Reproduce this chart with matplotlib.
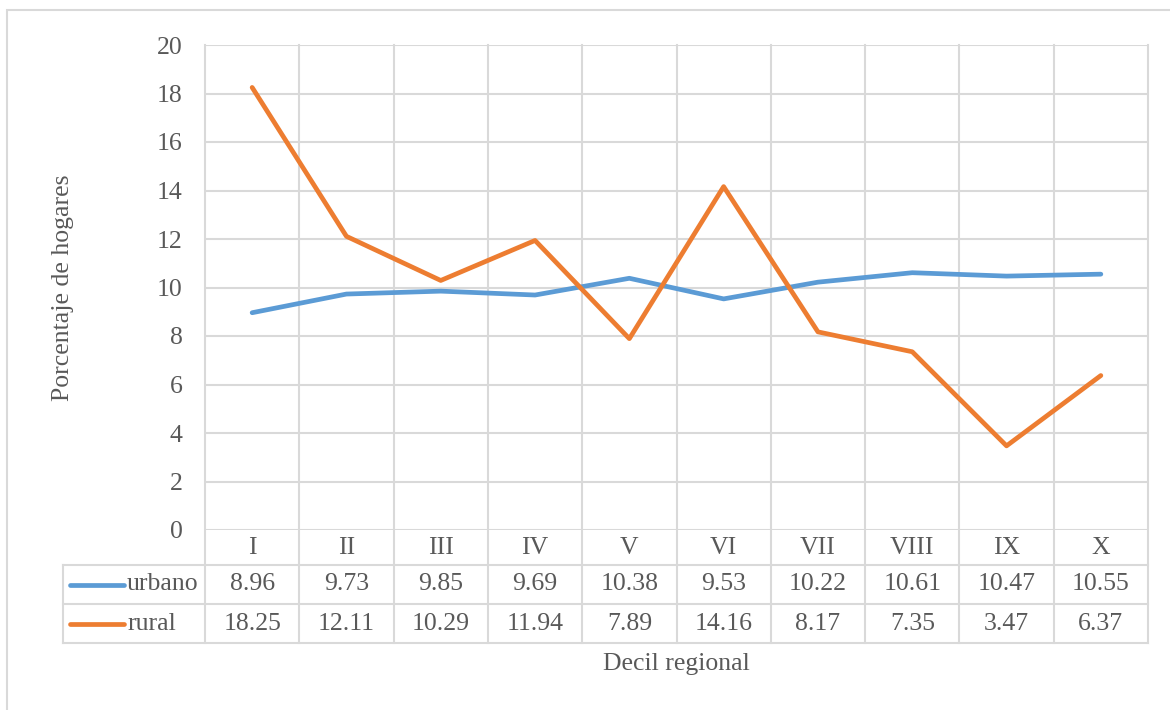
import numpy as np
import matplotlib.pyplot as plt
import matplotlib.transforms as mtransforms
from matplotlib.patches import Rectangle

# datos
deciles = ["I", "II", "III", "IV", "V", "VI", "VII", "VIII", "IX", "X"]
urbano = [8.96, 9.73, 9.85, 9.69, 10.38, 9.53, 10.22, 10.61, 10.47, 10.55]
rural = [18.25, 12.11, 10.29, 11.94, 7.89, 14.16, 8.17, 7.35, 3.47, 6.37]
y_ticks = list(range(0, 21, 2))

plt.rcParams['font.family'] = ['Liberation Serif', 'DejaVu Serif']
txt_color = "#595959"
grid_color = "#d9d9d9"
c_urb = "#5B9BD5"
c_rur = "#ED7D31"
fs = 18.5

W, H = 1170, 710
fig = plt.figure(figsize=(W / 100, H / 100), dpi=100)

# marco exterior
fig.patches.append(Rectangle((7 / W, -0.1), 1.2, 1 - 10 / H + 0.1, transform=fig.transFigure,
                             fill=False, edgecolor=grid_color, linewidth=1.5))

ax = fig.add_axes([205 / W, 1 - 530 / H, 943 / W, 485 / H])
x = np.arange(len(deciles))
ax.set_xlim(-0.5, len(deciles) - 0.5)
ax.set_ylim(0, 20)
ax.set_yticks(y_ticks)
ax.set_yticklabels([str(t) for t in y_ticks], fontsize=fs, color=txt_color)
ax.tick_params(axis='y', length=0, pad=16)
ax.set_xticks([])
for s in ax.spines.values():
    s.set_visible(False)

# lineas horizontales de la grilla
for t in y_ticks:
    ax.axhline(t, color=grid_color, linewidth=1.5, zorder=1)

trans = mtransforms.blended_transform_factory(ax.transData, ax.transAxes)
ph = 485.0
row_cat = -35 / ph
row_urb = -74 / ph
row_rur = -113 / ph
left_tbl = (63 - 205) / 943.0

# lineas verticales (grilla + tabla)
for b in np.arange(-0.5, len(deciles), 1):
    ax.plot([b, b], [row_rur, 1], transform=trans, color=grid_color,
            linewidth=1.5, clip_on=False, zorder=1)
for yy in [row_cat, row_urb, row_rur]:
    ax.plot([left_tbl, 1], [yy, yy], transform=ax.transAxes, color=grid_color,
            linewidth=1.5, clip_on=False, zorder=1)
ax.plot([left_tbl, left_tbl], [row_cat, row_rur], transform=ax.transAxes,
        color=grid_color, linewidth=1.5, clip_on=False, zorder=1)

# series
ax.plot(x, urbano, color=c_urb, linewidth=3.4, solid_capstyle='round', zorder=3)
ax.plot(x, rural, color=c_rur, linewidth=3.4, solid_capstyle='round', zorder=3)

# tabla de datos
for i, d in enumerate(deciles):
    ax.text(i, row_cat / 2, d, transform=trans, ha='center', va='center',
            fontsize=fs, color=txt_color)
    ax.text(i, (row_cat + row_urb) / 2, f"{urbano[i]:.2f}", transform=trans,
            ha='center', va='center', fontsize=fs, color=txt_color)
    ax.text(i, (row_urb + row_rur) / 2, f"{rural[i]:.2f}", transform=trans,
            ha='center', va='center', fontsize=fs, color=txt_color)

for name, col, yy in [("urbano", c_urb, (row_cat + row_urb) / 2),
                      ("rural", c_rur, (row_urb + row_rur) / 2)]:
    ax.plot([(70 - 205) / 943, (124 - 205) / 943], [yy, yy], transform=ax.transAxes,
            color=col, linewidth=3.4, solid_capstyle='round', clip_on=False)
    ax.text((127 - 205) / 943, yy, name, transform=ax.transAxes, ha='left',
            va='center', fontsize=fs, color=txt_color)

fig.text(63 / W, 1 - 288 / H, "Porcentaje de hogares", rotation=90, ha='center',
         va='center', fontsize=fs, color=txt_color)
fig.text(676 / W, 1 - 664 / H, "Decil regional", ha='center', va='center',
         fontsize=fs, color=txt_color)

fig.savefig("out.png", dpi=100)
